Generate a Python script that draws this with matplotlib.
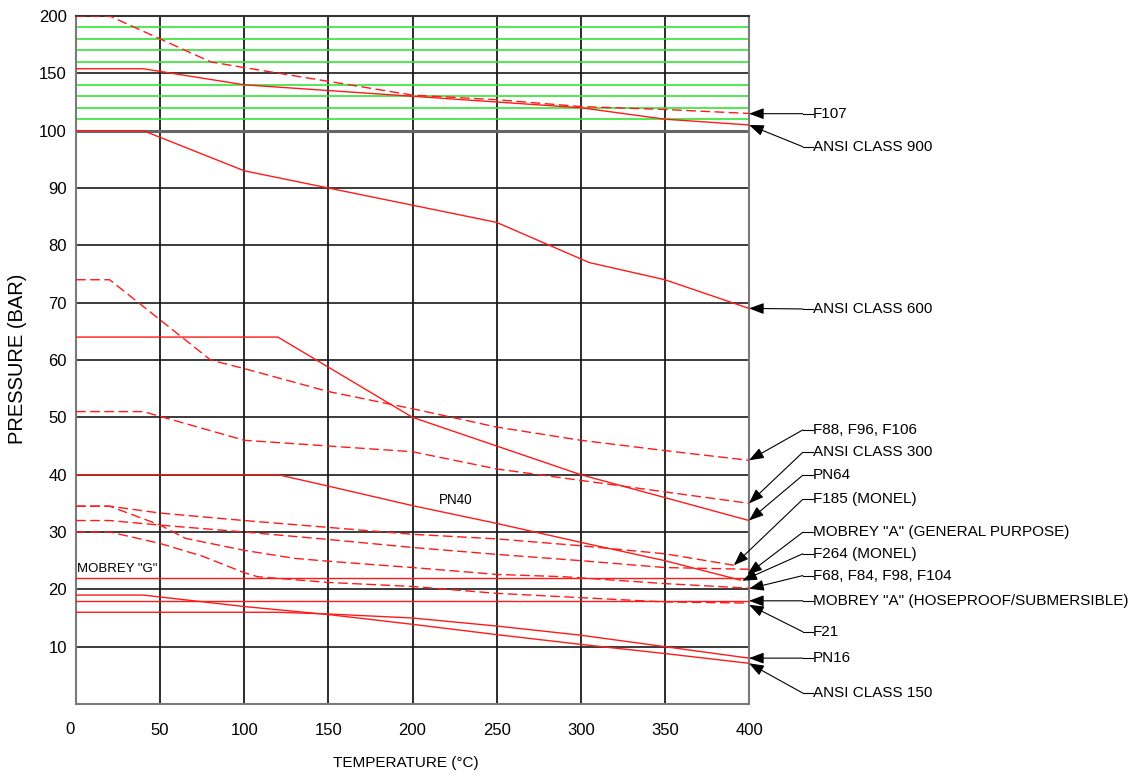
import numpy as np
import matplotlib
matplotlib.use("Agg")
import matplotlib.pyplot as plt
from matplotlib import font_manager

# pick a narrow face if present, otherwise plain Liberation Sans
try:
    font_manager.findfont("Liberation Sans Narrow", fallback_to_default=False)
    narrow, nsize = "Liberation Sans Narrow", 13.0
except ValueError:
    narrow, nsize = "Liberation Sans", 10.95
plt.rcParams['font.family'] = ['Liberation Sans', 'DejaVu Sans']

# ---- data (temperature degC, pressure bar) ----
f107_t = [0, 20, 80, 100, 150, 200, 250, 300, 350, 400]
f107_p = [200, 200, 160, 155, 143, 131, 127, 121, 118.5, 115]

ansi900_t = [0, 40, 100, 150, 200, 250, 300, 350, 400]
ansi900_p = [154, 154, 140, 135, 130, 125, 120, 110, 105]

ansi600_t = [0, 40, 100, 150, 200, 250, 305, 350, 400]
ansi600_p = [100, 100, 93, 90, 87, 84, 77, 74, 69]

f88_t = [0, 20, 80, 100, 150, 200, 250, 300, 350, 400]
f88_p = [74, 74, 60, 58.5, 54.5, 51.5, 48.3, 46, 44.2, 42.5]

pn64_t = [0, 120, 200, 300, 400]
pn64_p = [64, 64, 50, 40, 32]

ansi300_t = [0, 40, 100, 150, 200, 250, 300, 350, 400]
ansi300_p = [51, 51, 46, 45, 44, 41, 39, 37, 35]

pn40_t = [0, 120, 150, 200, 250, 300, 350, 395]
pn40_p = [40, 40, 38, 34.6, 31.5, 28.2, 25.0, 21.6]

f185_t = [0, 20, 50, 100, 150, 200, 250, 300, 350, 391]
f185_p = [34.5, 34.5, 33.3, 32, 30.8, 29.6, 28.8, 27.6, 26.2, 24.2]

f264_t = [0, 20, 50, 100, 150, 200, 250, 300, 350, 400]
f264_p = [32, 32, 31.2, 30, 28.7, 27.3, 26.1, 25.0, 23.8, 23.5]

f68_t = [0, 20, 50, 65, 100, 130, 150, 200, 250, 290, 350, 400]
f68_p = [34.5, 34.5, 31.2, 28.9, 26.8, 25.4, 24.9, 23.8, 22.6, 22.2, 21.0, 20.2]

f21_t = [0, 20, 50, 75, 100, 108, 150, 200, 250, 290, 350, 400]
f21_p = [30, 30, 28, 25.8, 22.9, 22.2, 21.2, 20.5, 19.3, 18.7, 17.8, 17.6]

mobg_t = [0, 400]
mobg_p = [22, 22]

moba_t = [0, 400]
moba_p = [18, 18]

ansi150_t = [0, 40, 100, 150, 200, 250, 300, 350, 400]
ansi150_p = [19, 19, 17, 15.6, 13.9, 12.1, 10.4, 8.8, 7.1]

pn16_t = [0, 120, 150, 200, 250, 300, 350, 400]
pn16_p = [16, 16, 15.7, 15, 13.6, 12, 10, 8]

solid = [(ansi900_t, ansi900_p), (ansi600_t, ansi600_p), (pn64_t, pn64_p),
         (pn40_t, pn40_p), (mobg_t, mobg_p), (moba_t, moba_p),
         (ansi150_t, ansi150_p), (pn16_t, pn16_p)]
dashed = [(f107_t, f107_p), (f88_t, f88_p), (ansi300_t, ansi300_p),
          (f185_t, f185_p), (f264_t, f264_p), (f68_t, f68_p), (f21_t, f21_p)]

# labels on the right: text, arrow tip (t, p), label height p
labels = ["F107", "ANSI CLASS 900", "ANSI CLASS 600", "F88, F96, F106",
          "ANSI CLASS 300", "PN64", "F185 (MONEL)",
          'MOBREY "A" (GENERAL PURPOSE)', "F264 (MONEL)",
          "F68, F84, F98, F104", 'MOBREY "A" (HOSEPROOF/SUBMERSIBLE)',
          "F21", "PN16", "ANSI CLASS 150"]
tip_t = [400, 400, 400, 400, 400, 400, 391, 399, 396, 400, 400, 400, 400, 400]
tip_p = [114.8, 105, 69, 42.5, 35, 32, 24.2, 22.6, 21.5, 20.1, 18, 17.3, 8, 7.1]
lab_p = [114.8, 97.2, 68.9, 47.8, 43.9, 39.9, 35.7, 29.95, 26.2, 22.4, 18, 12.6, 8, 1.9]

xticks = [50, 100, 150, 200, 250, 300, 350, 400]
yticks = [10, 20, 30, 40, 50, 60, 70, 80, 90, 100, 150, 200]
green = [110, 120, 130, 140, 160, 170, 180, 190]


def fwd(y):
    y = np.asarray(y, float)
    return np.where(y <= 100, y, 100 + (y - 100) / 5.0)


def inv(t):
    t = np.asarray(t, float)
    return np.where(t <= 100, t, 100 + (t - 100) * 5.0)


fig = plt.figure(figsize=(11.31, 7.78), dpi=100)
ax = fig.add_axes([76 / 1131, 1 - 704 / 778, 673 / 1131, 688 / 778])
ax.set_yscale('function', functions=(fwd, inv))
ax.set_xlim(0, 400)
ax.set_ylim(0, 200)

# grid
for x in xticks[:-1]:
    ax.axvline(x, color='#1a1a1a', lw=1.3, zorder=1)
for y in yticks:
    if y == 100:
        ax.axhline(y, color='#666666', lw=2.2, zorder=1)
    elif y < 200:
        ax.axhline(y, color='#1a1a1a', lw=1.2, zorder=1)
for y in green:
    ax.axhline(y, color='#33e633', lw=1.2, zorder=1.5)

for t, p in solid:
    ax.plot(t, p, color='#ff1a1a', lw=1.0, zorder=3)
for t, p in dashed:
    ax.plot(t, p, color='#ff1a1a', lw=1.0, ls=(0, (7, 3.2)), zorder=3)

for s in ax.spines.values():
    s.set_color('#7a7a7a')
    s.set_linewidth(1.5)
ax.spines['top'].set_color('#333333')

ax.set_xticks(xticks)
ax.set_yticks(yticks)
ax.minorticks_off()
ax.tick_params(axis='both', length=0, labelsize=12)
ax.tick_params(axis='y', pad=6.5)
ax.tick_params(axis='x', pad=14)

# leaders and labels
bend_x = (801.7 - 76) / 1.68
text_x = (812.0 - 76) / 1.68
for lab, tt, tp, lp in zip(labels, tip_t, tip_p, lab_p):
    ax.plot([bend_x, text_x], [lp, lp], color='k', lw=0.8, clip_on=False, zorder=4)
    ax.annotate('', xy=(tt, tp), xytext=(bend_x, lp), annotation_clip=False,
                arrowprops=dict(arrowstyle='-|>,head_length=0.75,head_width=0.28',
                                color='k', lw=0.8, shrinkA=0, shrinkB=0,
                                mutation_scale=12))
    ax.text(text_x, lp, lab, family=narrow, fontsize=nsize,
            ha='left', va='center', clip_on=False)

ax.text(0.5, 23.5, 'MOBREY "G"', family=narrow, fontsize=nsize - 1.4,
        ha='left', va='center')
ax.text(225.6, 35.6, 'PN40', family=narrow, fontsize=nsize - 1.2,
        ha='center', va='center')

fig.text(70 / 1131, 1 - 730 / 778, '0', fontsize=12, ha='center', va='center')
fig.text(406 / 1131, 1 - 763 / 778, 'TEMPERATURE (°C)', family=narrow,
         fontsize=nsize, ha='center', va='center')
fig.text(18 / 1131, 1 - 359 / 778, 'PRESSURE (BAR)', fontsize=14.5,
         rotation=90, ha='center', va='center')

fig.savefig('out.png', dpi=100)
